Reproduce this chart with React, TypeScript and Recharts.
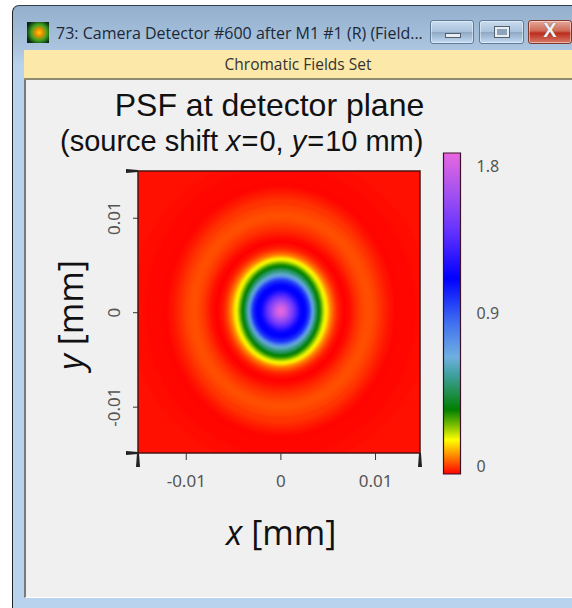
import { BarChart, Bar, ComposedChart, ReferenceArea, XAxis, YAxis, Cell } from 'recharts'

const ringValues = [
  0.012, 0.008, 0.005, 0.004, 0.012, 0.02, 0.03, 0.04, 0.05, 0.058, 0.06, 0.056, 0.05, 0.042, 0.032, 0.02, 0.008,
  0.0, 0.008, 0.014, 0.025, 0.04, 0.06, 0.085, 0.11, 0.15, 0.175, 0.195, 0.23, 0.27, 0.32, 0.36, 0.4, 0.47, 0.52,
  0.62, 0.72, 0.85, 0.97, 1.02, 1.07, 1.1, 1.1, 1.12, 1.18, 1.26, 1.34, 1.42, 1.5, 1.58, 1.66, 1.72, 1.78,
]
const ringHalfX = [
  21.2, 15.9, 14.3, 12.7, 11.9, 11.4, 11.0, 10.6, 10.2, 9.74, 9.31, 9.0, 8.68, 8.36, 8.04, 7.72, 7.41, 6.98, 6.56, 6.35,
  6.14, 5.93, 5.71, 5.5, 5.29, 5.08, 4.92, 4.76, 4.6, 4.44, 4.29, 4.13, 3.97, 3.81, 3.7, 3.54, 3.39, 3.23, 3.07, 2.91,
  2.75, 2.59, 2.43, 2.22, 2.01, 1.8, 1.59, 1.38, 1.16, 0.95, 0.74, 0.53, 0.32,
]
const ringHalfY = [
  21.7, 16.4, 15.3, 13.8, 13.1, 12.7, 12.3, 11.9, 11.2, 10.6, 10.2, 9.84, 9.52, 9.21, 8.78, 8.36, 7.94, 7.51, 7.2, 6.98,
  6.77, 6.56, 6.35, 6.14, 5.93, 5.77, 5.61, 5.5, 5.34, 5.19, 5.03, 4.87, 4.66, 4.5, 4.34, 4.07, 3.81, 3.6, 3.39, 3.17,
  2.96, 2.75, 2.59, 2.38, 2.17, 1.96, 1.69, 1.48, 1.27, 1.06, 0.79, 0.58, 0.32,
]
const ringCenterY = 0.00018

const xDomain = [-0.0151, 0.0147]
const yDomain = [-0.01485, 0.015]
const xTicks = [-0.0151, -0.01, 0, 0.01, 0.0147]
const yTicks = [-0.01485, -0.01, 0, 0.01, 0.015]
const tickLabels: Record<string, string> = { '-0.01': '-0.01', '0': '0', '0.01': '0.01' }

const colorbarTicks = [0, 0.9, 1.8]
const colorbarData = [{ name: 'psf', value: 1.8 }]

// colormap as in the colorbar, position 0..1 from the bottom
const mapStops = [0, 0.04, 0.106, 0.15, 0.2, 0.31, 0.365, 0.47, 0.61, 0.75, 0.87, 1]
const mapColors = [
  '#ff0000', '#ff6000', '#ffff00', '#80c000', '#008000', '#40a0a0', '#70b0e0', '#4070f0', '#0000ff', '#6030ff',
  '#a050f0', '#e868e0',
]

const hexToRgb = (h: string) => [1, 3, 5].map((i) => parseInt(h.slice(i, i + 2), 16))

function colorFor(value: number) {
  const t = Math.min(1, Math.max(0, value / 1.8))
  let i = 0
  while (i < mapStops.length - 2 && t > mapStops[i + 1]) i++
  const f = (t - mapStops[i]) / (mapStops[i + 1] - mapStops[i])
  const a = hexToRgb(mapColors[i])
  const b = hexToRgb(mapColors[i + 1])
  return `rgb(${a.map((c, k) => Math.round(c + (b[k] - c) * f)).join(',')})`
}

const tickColor = '#555'
const tickFont = '"Noto Sans", sans-serif'
const tickSize = 17

function XTick({ x, y, payload }: any) {
  const v = payload.value
  const label = tickLabels[String(v)]
  if (!label) {
    return <polygon points={`${x - 1},${y} ${x + 1},${y} ${x + 2},${y + 14} ${x - 2},${y + 14}`} fill="#222" />
  }
  return (
    <g>
      <line x1={x} x2={x} y1={y} y2={y + 7} stroke="#333" />
      <text x={x} y={y + 34} textAnchor="middle" fontSize={tickSize} fontFamily={tickFont} fill={tickColor}>
        {label}
      </text>
    </g>
  )
}

function YTick({ x, y, payload }: any) {
  const v = payload.value
  const label = tickLabels[String(v)]
  if (!label) {
    return <polygon points={`${x},${y - 1} ${x},${y + 1} ${x - 12},${y + 2} ${x - 12},${y - 2}`} fill="#222" />
  }
  return (
    <g>
      <line x1={x} x2={x - 5} y1={y} y2={y} stroke="#333" />
      <text
        transform={`translate(${x - 18},${y}) rotate(-90)`}
        textAnchor="middle"
        fontSize={tickSize}
        fontFamily={tickFont}
        fill={tickColor}
      >
        {label}
      </text>
    </g>
  )
}

function BarTick({ x, y, payload }: any) {
  const v = payload.value
  const dy = v === 1.8 ? 13 : v === 0 ? -8 : -1
  return (
    <text x={x + 16} y={y + dy + 6} fontSize={16} fontFamily={tickFont} fill={tickColor}>
      {String(v)}
    </text>
  )
}

const ringShape = (color: string) => (p: any) => (
  <ellipse
    cx={p.x + p.width / 2}
    cy={p.y + p.height / 2}
    rx={Math.abs(p.width) / 2}
    ry={Math.abs(p.height) / 2}
    fill={color}
    clipPath="url(#psfPlot)"
    style={{ filter: 'blur(1.2px)' }}
  />
)

function Chrome() {
  const btn = (left: number, width: number, bg: string, border: string): React.CSSProperties => ({
    position: 'absolute',
    left,
    top: 20,
    width,
    height: 24,
    boxSizing: 'border-box',
    background: bg,
    border: `1px solid ${border}`,
    borderRadius: 3,
    boxShadow: 'inset 0 0 0 1px rgba(255,255,255,0.45)',
  })
  const blueBtn = 'linear-gradient(#c9dcef, #aac3dc 48%, #8fa9c4 52%, #c3dbf3)'
  return (
    <>
      <div
        style={{
          position: 'absolute',
          left: 12,
          top: 5,
          width: 580,
          height: 620,
          boxSizing: 'border-box',
          borderTop: '1.5px solid #33404c',
          borderLeft: '1.5px solid #222',
          borderTopLeftRadius: 7,
          background: 'linear-gradient(#93afcc 0, #a9c3de 40px, #b9d3ee 60px)',
        }}
      />
      <div
        style={{
          position: 'absolute',
          left: 27,
          top: 22,
          width: 22,
          height: 21,
          background: 'radial-gradient(circle at 55% 50%, #ffd800 0, #ff9000 18%, #3fa020 50%, #0b3010 80%, #101010 100%)',
        }}
      />
      <div
        style={{
          position: 'absolute',
          left: 56,
          top: 23,
          fontFamily: '"Open Sans", sans-serif',
          fontSize: 16,
          lineHeight: '20px',
          color: '#1c2836',
          whiteSpace: 'nowrap',
        }}
      >
        73: Camera Detector #600 after M1 #1 (R) (Field...
      </div>
      <div style={btn(430, 44, blueBtn, '#5f7b9a')}>
        <div style={{ position: 'absolute', left: 14, top: 12, width: 16, height: 5, background: '#e8eef4', border: '1px solid #52606e', boxSizing: 'border-box' }} />
      </div>
      <div style={btn(479, 45, blueBtn, '#5f7b9a')}>
        <div style={{ position: 'absolute', left: 15, top: 6, width: 14, height: 10, border: '2px solid #e8eef4', outline: '1px solid #52606e', boxSizing: 'border-box', background: '#8da3ba' }} />
      </div>
      <div style={btn(528, 44, 'linear-gradient(#e6a899, #cf6a58 45%, #bb2c1c 55%, #d87a68)', '#7f3a2c')}>
        <div
          style={{
            position: 'absolute',
            left: 0,
            top: -3,
            width: 42,
            textAlign: 'center',
            fontFamily: '"Liberation Sans", sans-serif',
            fontWeight: 700,
            fontSize: 20,
            lineHeight: '24px',
            color: '#f2f2f2',
            textShadow: '0 0 1px #444',
          }}
        >
          X
        </div>
      </div>
      <div
        style={{
          position: 'absolute',
          left: 24,
          top: 50,
          width: 548,
          height: 30,
          boxSizing: 'border-box',
          background: '#fce8a8',
          borderBottom: '2px solid #8f8a72',
          textAlign: 'center',
          fontFamily: '"Open Sans", sans-serif',
          fontSize: 15.5,
          lineHeight: '28px',
          color: '#333',
        }}
      >
        Chromatic Fields Set
      </div>
      <div
        style={{
          position: 'absolute',
          left: 24,
          top: 80,
          width: 548,
          height: 518,
          boxSizing: 'border-box',
          background: '#f0f0f0',
          borderLeft: '2px solid #7a7a7a',
          borderBottom: '1px solid #fff',
        }}
      />
    </>
  )
}

export default function App() {
  const sans = '"Liberation Sans", Arial, sans-serif'
  const eq = <span style={{ margin: '0 1px' }}>=</span>
  return (
    <div style={{ position: 'absolute', left: 0, top: 0, width: 572, height: 608, overflow: 'hidden', background: '#fff' }}>
      <Chrome />

      <div style={{ position: 'absolute', left: 0, top: 87, width: 539, textAlign: 'center', fontFamily: sans, fontSize: 32, lineHeight: '36px', color: '#111' }}>
        PSF at detector plane
      </div>
      <div style={{ position: 'absolute', left: 60, top: 124, fontFamily: sans, fontSize: 29, lineHeight: '34px', color: '#111', whiteSpace: 'nowrap' }}>
        (source shift <i>x</i>{eq}0, <i>y</i>{eq}10 mm)
      </div>
      <div style={{ position: 'absolute', left: 226, top: 509, fontFamily: '"Open Sans", sans-serif', fontSize: 34, lineHeight: '46px', color: '#111', whiteSpace: 'nowrap' }}>
        <i>x</i> [mm]
      </div>
      <div
        style={{
          position: 'absolute',
          left: 70,
          top: 315,
          transform: 'translate(-50%, -50%) rotate(-90deg)',
          fontFamily: '"Open Sans", sans-serif',
          fontSize: 34,
          lineHeight: '46px',
          color: '#111',
          whiteSpace: 'nowrap',
        }}
      >
        <i>y</i> [mm]
      </div>

      <div style={{ position: 'absolute', left: 0, top: 0 }}>
        <ComposedChart width={572} height={608} margin={{ top: 171, right: 152, bottom: 115, left: 88 }}>
          <defs>
            <clipPath id="psfPlot">
              <rect x={138} y={171} width={282} height={282} />
            </clipPath>
          </defs>
          <XAxis
            type="number"
            dataKey="x"
            domain={xDomain}
            ticks={xTicks}
            height={40}
            axisLine={false}
            tickLine={false}
            tickSize={0}
            tickMargin={0}
            interval={0}
            allowDataOverflow
            tick={<XTick />}
          />
          <YAxis
            type="number"
            dataKey="y"
            domain={yDomain}
            ticks={yTicks}
            width={50}
            axisLine={false}
            tickLine={false}
            tickSize={0}
            tickMargin={0}
            interval={0}
            allowDataOverflow
            tick={<YTick />}
          />
          <ReferenceArea x1={xDomain[0]} x2={xDomain[1]} y1={yDomain[0]} y2={yDomain[1]} fill={colorFor(0.012)} fillOpacity={1} stroke="none" ifOverflow="hidden" />
          {ringValues.map((v, i) => (
            <ReferenceArea
              key={i}
              x1={-ringHalfX[i] / 1000}
              x2={ringHalfX[i] / 1000}
              y1={ringCenterY - ringHalfY[i] / 1000}
              y2={ringCenterY + ringHalfY[i] / 1000}
              ifOverflow="visible"
              shape={ringShape(colorFor(v))}
            />
          ))}
          <ReferenceArea x1={xDomain[0]} x2={xDomain[1]} y1={yDomain[0]} y2={yDomain[1]} fill="none" fillOpacity={0} stroke="#4a1414" strokeWidth={1.5} ifOverflow="visible" />
        </ComposedChart>
      </div>

      <div style={{ position: 'absolute', left: 440, top: 150 }}>
        <BarChart
          width={90}
          height={330}
          data={colorbarData}
          barCategoryGap={0}
          margin={{ top: 3, right: 9.5, bottom: 6, left: 3.5 }}
        >
          <defs>
            <linearGradient id="psfMap" x1="0" y1="1" x2="0" y2="0">
              {mapStops.map((s, i) => (
                <stop key={i} offset={s} stopColor={mapColors[i]} />
              ))}
            </linearGradient>
          </defs>
          <XAxis dataKey="name" hide />
          <YAxis
            orientation="right"
            type="number"
            domain={[0, 1.8]}
            ticks={colorbarTicks}
            width={60}
            axisLine={false}
            tickLine={false}
            tickSize={0}
            tickMargin={0}
            interval={0}
            tick={<BarTick />}
          />
          <Bar dataKey="value" isAnimationActive={false} stroke="#3c1028" strokeWidth={1.2}>
            {colorbarData.map((d) => (
              <Cell key={d.name} fill="url(#psfMap)" />
            ))}
          </Bar>
        </BarChart>
      </div>
    </div>
  )
}
